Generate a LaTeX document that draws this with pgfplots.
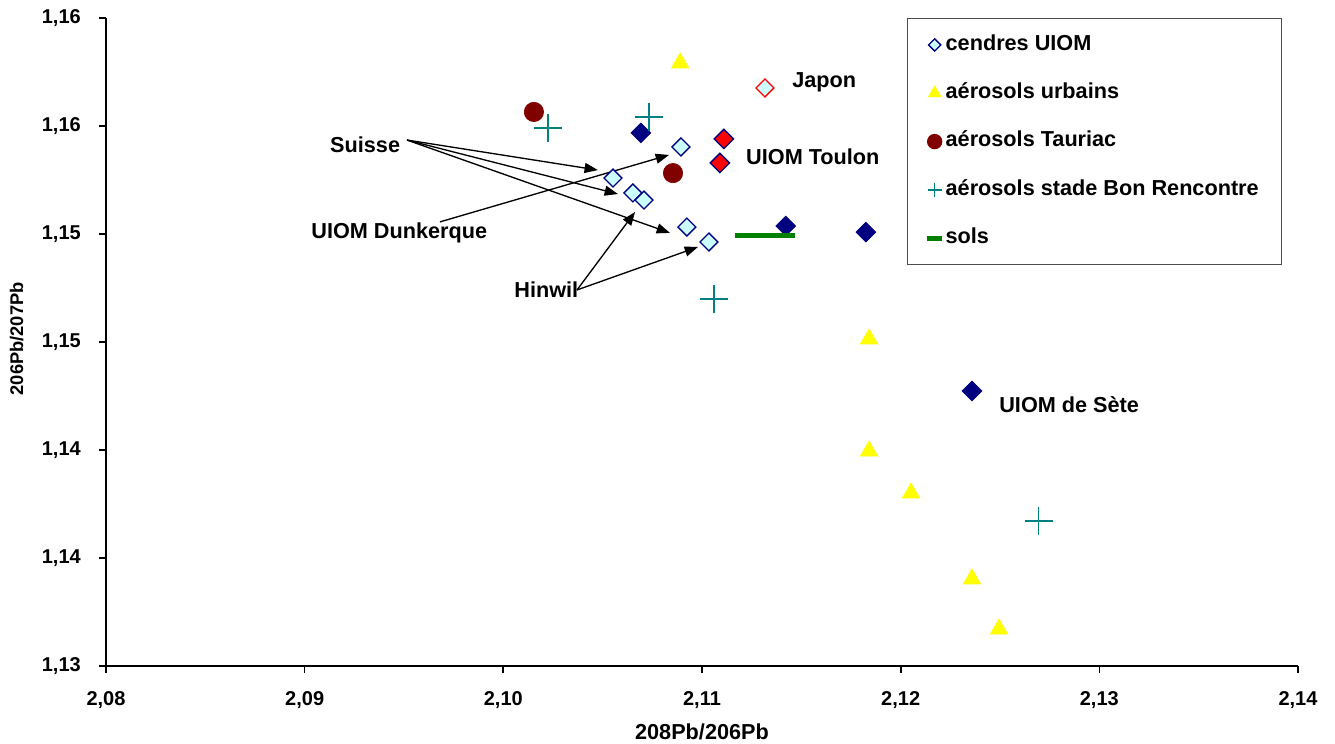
\documentclass[border=0pt]{standalone}
\usepackage{fontspec}
\setmainfont{Liberation Sans}
\usepackage{pgfplots}
\pgfplotsset{compat=1.18}
\usetikzlibrary{arrows.meta}
\definecolor{navy}{RGB}{0,0,128}
\definecolor{lcyan}{RGB}{204,255,255}
\definecolor{dred}{RGB}{128,0,0}
\definecolor{tealc}{RGB}{0,128,128}
\definecolor{dgreen}{RGB}{0,128,0}
\definecolor{yel}{RGB}{255,255,0}
\begin{document}
\begin{tikzpicture}
\path[use as bounding box] (-63.6pt,-46.8pt) rectangle (737.4pt,399.6pt);
\begin{axis}[
  scale only axis, width=715.2pt, height=388.8pt,
  xmin=2.08, xmax=2.14, ymin=1.13, ymax=1.16,
  axis x line*=bottom, axis y line*=left,
  axis line style={line width=1.2pt},
  tick style={line width=1pt, black},
  tick align=outside, major tick length=4pt,
  xtick={2.08,2.09,2.10,2.11,2.12,2.13,2.14},
  xticklabels={{2,08},{2,09},{2,10},{2,11},{2,12},{2,13},{2,14}},
  ytick={1.13,1.135,1.14,1.145,1.15,1.155,1.16},
  yticklabels={{1,13},{1,14},{1,14},{1,15},{1,15},{1,16},{1,16}},
  ticklabel style={font=\bfseries\fontsize{12}{14}\selectfont},
  xticklabel style={yshift=-7.5pt},
  yticklabel style={xshift=-7.6pt},
  xlabel={208Pb/206Pb},
  ylabel={206Pb/207Pb},
  xlabel style={font=\bfseries\fontsize{13}{15}\selectfont, at={(axis description cs:0.5,-0.102)}, anchor=center},
  ylabel style={font=\bfseries\fontsize{11}{13}\selectfont, at={(axis description cs:-0.075,0.505)}, anchor=center},
  legend style={at={(rel axis cs:0.672,1)}, anchor=north west, draw=black!70, line width=0.8pt,
    inner xsep=11.6pt, inner ysep=7.5pt, row sep=12.5pt, legend cell align=left,
    font=\bfseries\fontsize{13}{15}\selectfont,
    nodes={text height=9.5pt, text depth=3pt}},
  clip=false,
]
% extra points (no legend)
\addplot[only marks, mark=square*, mark size=4.2pt, mark options={rotate=45, fill=navy, draw=navy}, forget plot]
  coordinates {(2.10692,1.15468) (2.11422,1.15037) (2.11825,1.15009) (2.12359,1.14273)};
\addplot[only marks, mark=square*, mark size=4.1pt, mark options={rotate=45, fill=red, draw=navy, line width=0.8pt}, forget plot]
  coordinates {(2.1111,1.15440) (2.1109,1.15329)};
\addplot[only marks, mark=square*, mark size=3.8pt, mark options={rotate=45, fill=lcyan, draw=red, line width=0.8pt}, forget plot]
  coordinates {(2.11317,1.15676)};
% cendres UIOM
\addplot[only marks, mark=square*, mark size=3.8pt, mark options={rotate=45, fill=lcyan, draw=navy, line width=0.8pt},
  legend image post style={mark size=2.6pt}]
  coordinates {(2.10894,1.15403) (2.10552,1.15259) (2.10652,1.15190) (2.10708,1.15157) (2.10924,1.15032) (2.11035,1.14963)};
\addlegendentry{cendres UIOM}
% aerosols urbains
\addplot[only marks, mark=triangle*, mark size=6pt, mark options={fill=yel, draw=yel},
  legend image post style={mark size=4pt}]
  coordinates {(2.1089,1.15792) (2.11841,1.14514) (2.11841,1.13995) (2.12052,1.13801) (2.12359,1.13403) (2.12495,1.13171)};
\addlegendentry{aérosols urbains}
% aerosols Tauriac
\addplot[only marks, mark=*, mark size=5.8pt, mark options={fill=dred, draw=dred},
  legend image post style={mark size=4.2pt}]
  coordinates {(2.10154,1.15565) (2.10854,1.15282)};
\addlegendentry{aérosols Tauriac}
% aerosols stade Bon Rencontre
\addplot[only marks, mark=+, mark size=8.4pt, mark options={draw=tealc, line width=0.9pt},
  legend image post style={mark size=4.3pt, line width=0.7pt}]
  coordinates {(2.10224,1.15491) (2.10733,1.15542) (2.1106,1.14699) (2.12695,1.13671)};
\addlegendentry{aérosols stade Bon Rencontre}
% sols
\addplot[only marks, mark=-, mark size=9pt, mark options={draw=dgreen, line width=3pt},
  legend image post style={mark size=4.6pt, line width=2pt}]
  coordinates {(2.11241,1.14995) (2.11392,1.14991)};
\addlegendentry{sols}
% annotations
\tikzset{lab/.style={font=\bfseries\fontsize{13}{15}\selectfont, anchor=west, inner sep=0pt},
  arr/.style={line width=0.8pt, -{Triangle[length=8pt,width=6pt]}}}
\node[lab] at (axis cs:2.09127,1.15412) {Suisse};
\node[lab] at (axis cs:2.11453,1.15704) {Japon};
\node[lab] at (axis cs:2.11221,1.15356) {UIOM Toulon};
\node[lab] at (axis cs:2.09032,1.15005) {UIOM Dunkerque};
\node[lab] at (axis cs:2.10054,1.14741) {Hinwil};
\node[lab] at (axis cs:2.12495,1.14208) {UIOM de Sète};
\draw[arr] (axis cs:2.09515,1.15435) -- (axis cs:2.10476,1.15296);
\draw[arr] (axis cs:2.09515,1.15435) -- (axis cs:2.10577,1.15185);
\draw[arr] (axis cs:2.09515,1.15435) -- (axis cs:2.10839,1.15005);
\draw[arr] (axis cs:2.09681,1.15056) -- (axis cs:2.10834,1.15366);
\draw[arr] (axis cs:2.10371,1.14741) -- (axis cs:2.10663,1.15102);
\draw[arr] (axis cs:2.10371,1.14741) -- (axis cs:2.10980,1.14940);
\end{axis}
\end{tikzpicture}
\end{document}
